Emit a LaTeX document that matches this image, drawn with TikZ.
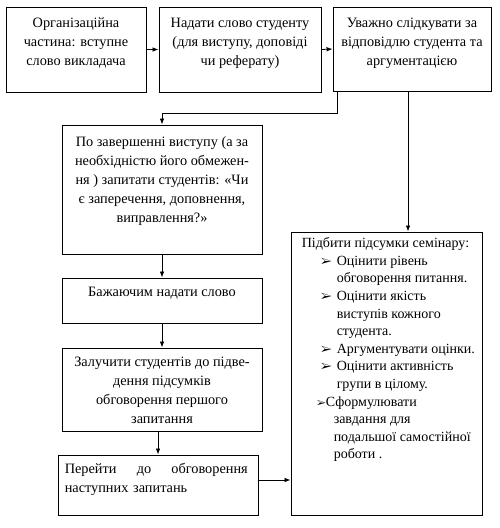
\documentclass[tikz,border=0pt]{standalone}
\usepackage{fontspec}
\usepackage{pifont}
\setmainfont{Liberation Serif}
\usetikzlibrary{arrows.meta}
\begin{document}
\begin{tikzpicture}[x=1pt,y=-1pt,
  box/.style={draw, line width=0.9pt, inner sep=0pt},
  txt/.style={anchor=north, align=center, inner sep=0pt, font=\fontsize{14.3}{19}\selectfont},
  ltxt/.style={anchor=north west, align=left, inner sep=0pt, font=\fontsize{14.3}{19}\selectfont},
  arr/.style={-{Latex[length=6pt,width=4.5pt]}, line width=0.8pt}]
\newcommand\arrowbul{\makebox[16pt][l]{\fontsize{12}{10}\selectfont\ding{226}}}
\useasboundingbox (0,0) rectangle (500,528);
\fill[white] (0,0) rectangle (500,528);
% boxes
\node[box, minimum width=140, minimum height=85] (A) at (76,49.5) {};
\node[box, minimum width=162, minimum height=85] (B) at (240,49.5) {};
\node[box, minimum width=158, minimum height=84] (C) at (412,49) {};
\node[box, minimum width=200, minimum height=129] (D) at (162,189.5) {};
\node[box, minimum width=200, minimum height=45] (E) at (162,300.5) {};
\node[box, minimum width=200, minimum height=83] (F) at (162,389.5) {};
\node[box, minimum width=200, minimum height=60] (G) at (158,485) {};
\node[box, minimum width=191, minimum height=283] (H) at (386.5,373.5) {};
% texts
\node[txt] (tA) at ([yshift=-11]A.north) {Організаційна\\частина: вступне\\слово викладача};
\node[txt] (tB) at ([yshift=-11]B.north) {Надати слово студенту\\(для виступу, доповіді\\чи реферату)};
\node[txt] (tC) at ([yshift=-11]C.north) {Уважно слідкувати за\\відповідлю студента та\\аргументацією};
\node[txt] (tD) at ([yshift=-12]D.north) {По завершенні виступу (а за\\необхідністю його обмежен-\\ня ) запитати студентів: «Чи\\є заперечення, доповнення,\\виправлення?»};
\node[txt] (tE) at ([yshift=-9]E.north) {Бажаючим надати слово};
\node[txt] (tF) at ([yshift=-9]F.north) {Залучити студентів до підве-\\дення підсумків\\обговорення першого\\запитання};
\node[ltxt, text width=183] (tG) at ([xshift=7,yshift=-9]G.north west) {Перейти\hfill до\hfill обговорення\\наступних запитань};
\node[ltxt, font=\fontsize{14}{17.6}\selectfont] (tH) at ([xshift=11,yshift=-6]H.north west) {Підбити підсумки семінару:\\
\hspace*{19pt}\arrowbul Оцінити рівень\\
\hspace*{35pt}обговорення питання.\\
\hspace*{19pt}\arrowbul Оцінити якість\\
\hspace*{35pt}виступів кожного\\
\hspace*{35pt}студента.\\
\hspace*{19pt}\arrowbul Аргументувати оцінки.\\
\hspace*{19pt}\arrowbul Оцінити активність\\
\hspace*{35pt}групи в цілому.\\
\hspace*{15pt}{\fontsize{10}{10}\selectfont\ding{226}}Сформулювати\\
\hspace*{32pt}завдання для\\
\hspace*{32pt}подальшої самостійної\\
\hspace*{32pt}роботи .};
% connectors
\coordinate (c1) at (337,113);
\coordinate (c2) at (408,150);
\coordinate (c3) at (270,480);
\draw[arr] (A.east) -- (B.west);
\draw[arr] (B.east) -- (C.west);
\draw[arr] (C.south -| c1) -- (c1) -| (D.north);
\draw[arr] (C.south -| c2) -- (H.north -| c2);
\draw[arr] (D.south) -- (E.north);
\draw[arr] (E.south) -- (F.north);
\draw[arr] (F.south -| G.north) -- (G.north);
\draw[arr] (G.east |- c3) -- (H.west |- c3);
\end{tikzpicture}
\end{document}
